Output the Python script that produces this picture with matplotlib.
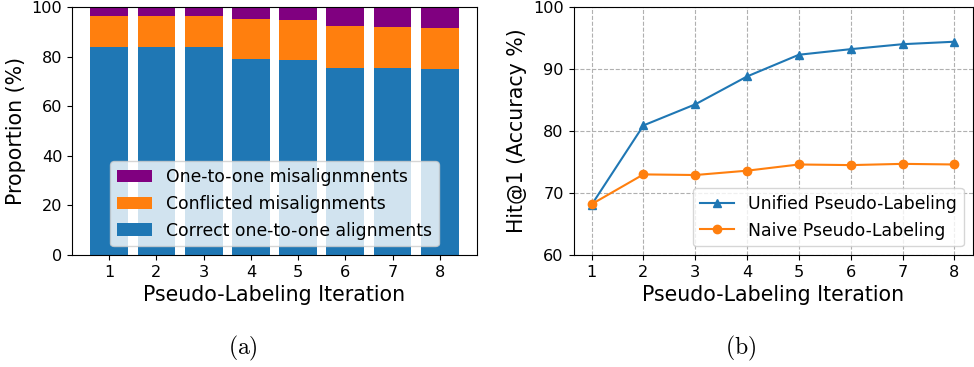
import matplotlib
matplotlib.use("Agg")
import matplotlib.pyplot as plt
import numpy as np

plt.rcParams['mathtext.fontset'] = 'cm'

iterations = [1, 2, 3, 4, 5, 6, 7, 8]
correct = [83.7, 83.7, 83.7, 79.2, 78.8, 75.6, 75.6, 74.8]
conflicted = [12.8, 12.8, 12.8, 16.0, 16.0, 16.8, 16.4, 16.8]
one2one_mis = [3.5, 3.5, 3.5, 4.8, 5.2, 7.6, 8.0, 8.4]

unified = [68.1, 80.9, 84.3, 88.8, 92.3, 93.2, 94.0, 94.4]
naive = [68.2, 73.0, 72.9, 73.6, 74.6, 74.5, 74.7, 74.6]

fig = plt.figure(figsize=(9.74, 3.67), dpi=100)
ax1 = fig.add_axes([72/974, 112/367, 405/974, 248/367])
ax2 = fig.add_axes([573.5/974, 112/367, 399/974, 248/367])

x = np.array(iterations)
b1 = ax1.bar(x, correct, width=0.8, color='#1f77b4', label='Correct one-to-one alignments')
b2 = ax1.bar(x, conflicted, width=0.8, bottom=correct, color='#ff7f0e', label='Conflicted misalignments')
bottom2 = np.array(correct) + np.array(conflicted)
b3 = ax1.bar(x, one2one_mis, width=0.8, bottom=bottom2, color='purple', label='One-to-one misalignmnents')
ax1.set_ylim(0, 100)
ax1.set_xticks(iterations)
ax1.tick_params(labelsize=11.6)
ax1.set_xlabel('Pseudo-Labeling Iteration', fontsize=14.8)
ax1.set_ylabel('Proportion (%)', fontsize=14.8)
ax1.legend(handles=[b3, b2, b1], loc='lower center', fontsize=12.4, bbox_to_anchor=(0.5, 0.0))

ax2.plot(x, unified, marker='^', color='#1f77b4', label='Unified Pseudo-Labeling')
ax2.plot(x, naive, marker='o', color='#ff7f0e', label='Naive Pseudo-Labeling')
ax2.set_ylim(60, 100)
ax2.set_xticks(iterations)
ax2.set_yticks([60, 70, 80, 90, 100])
ax2.grid(True, linestyle='--', color='#b0b0b0')
ax2.tick_params(labelsize=11.6)
ax2.set_xlabel('Pseudo-Labeling Iteration', fontsize=14.8)
ax2.set_ylabel('Hit@1 (Accuracy %)', fontsize=14.8)
ax2.legend(loc='lower right', fontsize=12.4)

fig.text(243/974, 1 - 348/367, r'$\mathrm{(a)}$', ha='center', va='center', fontsize=17)
fig.text(741/974, 1 - 348/367, r'$\mathrm{(b)}$', ha='center', va='center', fontsize=17)

fig.savefig('out.png', dpi=100)
